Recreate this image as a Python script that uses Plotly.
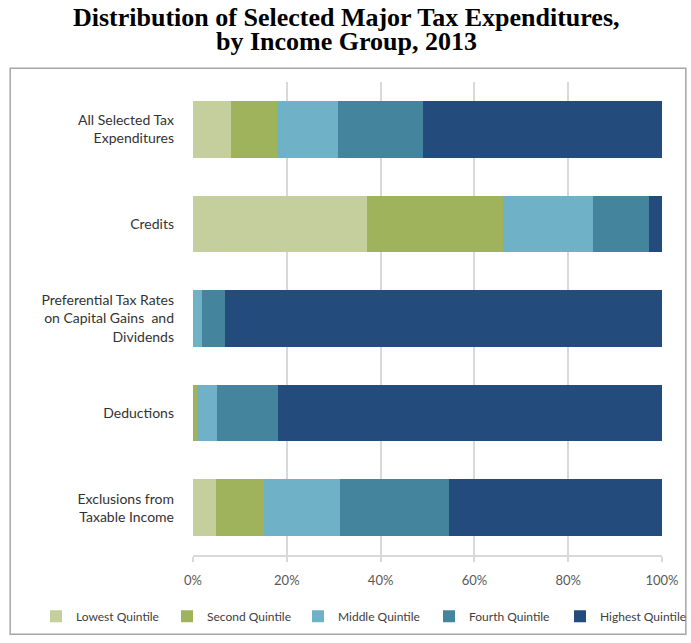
import plotly.graph_objects as go

categories = [
    "All Selected Tax<br>Expenditures",
    "Credits",
    "Preferential Tax Rates<br>on Capital Gains  and<br>Dividends",
    "Deductions",
    "Exclusions from<br>Taxable Income",
]
series_names = ["Lowest Quintile", "Second Quintile", "Middle Quintile",
                "Fourth Quintile", "Highest Quintile"]
lowest = [8.0, 37.1, 0.0, 0.1, 5.0]
second = [9.9, 29.0, 0.0, 0.8, 10.1]
middle = [13.1, 19.1, 2.0, 4.2, 16.2]
fourth = [18.1, 12.0, 4.9, 13.1, 23.3]
highest = [50.9, 2.8, 93.1, 81.8, 45.4]
x_ticks = [0, 20, 40, 60, 80, 100]
x_tick_labels = ["0%", "20%", "40%", "60%", "80%", "100%"]
title_lines = ["Distribution of Selected Major Tax Expenditures,",
               "by Income Group, 2013"]

colors = ["#C5CE9D", "#9FB25C", "#6FB2C7", "#45849D", "#234B7B"]
values = [lowest, second, middle, fourth, highest]

fig = go.Figure()
for name, vals, col in zip(series_names, values, colors):
    fig.add_trace(go.Bar(
        y=categories, x=vals, name=name, orientation="h",
        marker=dict(color=col, line=dict(width=0)),
    ))

W, H = 691, 643
L, R, T, B = 193, 26, 82, 83
pw, ph = W - L - R, H - T - B

def px(x):
    return (x - L) / pw

def py(y):
    return (H - B - y) / ph

annotations = []
for line, ypix in zip(title_lines, [17, 41]):
    annotations.append(dict(
        text="<b>" + line + "</b>", xref="paper", yref="paper",
        x=px(W / 2 + 2), y=py(ypix), xanchor="center", yanchor="middle",
        showarrow=False,
        font=dict(family="Liberation Serif, Times New Roman, serif", size=26, color="black"),
    ))

fig.update_layout(
    width=W, height=H,
    barmode="stack", bargap=0.4,
    margin=dict(l=L, r=R, t=T, b=B, pad=0),
    paper_bgcolor="white", plot_bgcolor="white",
    font=dict(family="Lato, Open Sans, sans-serif", size=13, color="#404040"),
    xaxis=dict(
        range=[0, 100], tickvals=x_ticks, ticktext=x_tick_labels,
        showgrid=True, gridcolor="#d9d9d9", gridwidth=1.5,
        showline=True, linecolor="#d9d9d9", linewidth=1.5,
        ticks="outside", ticklen=5, tickcolor="#d9d9d9", tickwidth=1.5,
        ticklabelstandoff=8,
        tickfont=dict(size=13, color="#595959"),
        zeroline=False, fixedrange=True,
    ),
    yaxis=dict(
        autorange="reversed", showgrid=False, zeroline=False,
        showline=False, ticks="", ticklabelstandoff=18,
        tickfont=dict(size=14, color="#333333"),
    ),
    legend=dict(
        orientation="h", xref="paper", yref="paper",
        x=px(36), xanchor="left", y=py(622), yanchor="middle",
        font=dict(size=12, color="#404040"), traceorder="normal",
        entrywidth=86, itemwidth=30, bgcolor="rgba(0,0,0,0)",
    ),
    showlegend=True,
    annotations=annotations,
    shapes=[dict(
        type="rect", xref="paper", yref="paper",
        x0=px(9), x1=px(689), y0=py(640), y1=py(68),
        line=dict(color="#a6a6a6", width=1.5), fillcolor="rgba(0,0,0,0)",
        layer="below",
    )],
)

fig.write_html("out.html", config={"displayModeBar": False},
               post_script="document.body.style.margin='0';")
